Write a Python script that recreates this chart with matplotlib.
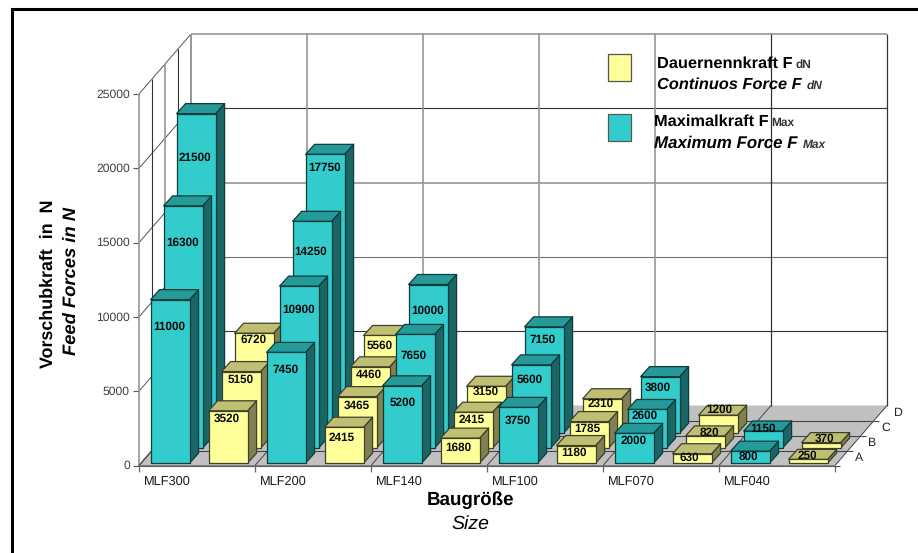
import matplotlib
matplotlib.use('Agg')
import matplotlib.pyplot as plt
from matplotlib.patches import Polygon

plt.rcParams['font.family'] = ['Liberation Sans', 'DejaVu Sans']
plt.rcParams['text.hinting'] = 'no_hinting'

# categories alternate between max force and continuous force
sizes = ['MLF300', 'MLF200', 'MLF140', 'MLF100', 'MLF070', 'MLF040']
rows = ['A', 'B', 'C', 'D']
yticks = [0, 5000, 10000, 15000, 20000, 25000]

row_a = [11000, 3520, 7450, 2415, 5200, 1680, 3750, 1180, 2000, 630, 800, 250]
row_b = [16300, 5150, 10900, 3465, 7650, 2415, 5600, 1785, 2600, 820, 1150, 370]
row_c = [21500, 6720, 14250, 4460, 10000, 3150, 7150, 2310, 3800, 1200, None, None]
row_d = [None, None, 17750, 5560, None, None, None, None, None, None, None, None]
values = [row_a, row_b, row_c, row_d]

# hand placed value labels, offset from the top centre of each bar
offs_a = [(-.5, 27), (-1, 8), (-1, 17), (-2, 10.6), (1, 17), (-2, 10), (0, 13.4),
          (-2.5, 7.3), (0, 7.3), (-2.5, 4), (-1.5, 6), (-.5, -3.5)]
offs_b = [(0, 37), (0, 8.4), (0, 23.7), (0, 9), (-2, 21), (-1, 7.3), (-1, 15),
          (-2, 7.6), (-2, 6.3), (4.5, -3.6), (0, -2.7), (3, -3.7)]
offs_c = [(-1.5, 43.7), (0, 7), (-1.5, 30.4), (-1.5, 7.6), (0, 26), (0, 5.6), (-2, 12.6),
          (-1, 5), (-2, 10.7), (1, -5.7), (0, 0), (0, 0)]
offs_d = [(0, 0), (0, 0), (0, 13.4), (-3.5, 10.4), (0, 0), (0, 0), (0, 0),
          (0, 0), (0, 0), (0, 0), (0, 0), (0, 0)]
label_offs = [offs_a, offs_b, offs_c, offs_d]

# projection of the chart box onto the page
X0, Y0 = 139, 465.5
CAT_W = 58
ROW_DX, ROW_DY = 13, -15
PX_PER_N = 371.5 / 25000
BAR_W = 39
BAR_DX, BAR_DY = 9, -10
BAR_DEPTH_OFF = 0.16   # gap in front of a bar, as fraction of a row
TEAL = ('#33CCCC', '#269999', '#1A6666', '#0E3C3C')
YELLOW = ('#FFFF99', '#BFBF73', '#808050', '#40402A')
GRID_DARK = '#333333'
GRID_GREY = '#969696'


def project(cat, row, val):
    # cat = category units, row = depth units, val = newtons
    x = X0 + cat * CAT_W + row * ROW_DX
    y = Y0 + row * ROW_DY - val * PX_PER_N
    return x, y


def line(ax, p, q, color, lw=0.8):
    ax.plot([p[0], q[0]], [p[1], q[1]], color=color, lw=lw, solid_capstyle='butt', zorder=2)


def draw_walls(ax):
    n_cat = len(sizes) * 2
    n_row = len(rows)
    top = yticks[-1]
    floor = [project(0, 0, 0), project(n_cat, 0, 0), project(n_cat, n_row, 0), project(0, n_row, 0)]
    ax.add_patch(Polygon(floor, closed=True, fc='#C0C0C0', ec='none', zorder=1))
    # back wall and side wall
    for i, v in enumerate(yticks):
        c = GRID_GREY if v in (15000, 25000) else GRID_DARK
        lw = 1.2 if v in (15000, 25000) else 0.8
        if v == 10000:
            c = '#707070'
        if v > 0:
            line(ax, project(0, n_row, v), project(n_cat, n_row, v), c, lw)
        line(ax, project(0, 0, v), project(0, n_row, v), '#555555', 0.7)
        line(ax, (X0 - 6, project(0, 0, v)[1]), project(0, 0, v), '#555555', 0.8)
        ax.text(X0 - 9, project(0, 0, v)[1] + 0.5, str(v), ha='right', va='center',
                fontsize=8.7, color='#404040')
    for k in range(len(sizes) + 1):
        c = GRID_DARK if k >= 5 else GRID_GREY
        lw = 0.9 if k >= 5 else 1.2
        line(ax, project(k * 2, n_row, 0), project(k * 2, n_row, top), c, lw)
        line(ax, project(k * 2, 0, 0), project(k * 2, n_row, 0), '#444444', 0.7)
        line(ax, project(k * 2, 0, 0), (project(k * 2, 0, 0)[0], Y0 + 6), '#666666', 0.9)
    for r in range(n_row + 1):
        c = GRID_GREY if r % 2 == 0 else GRID_DARK
        line(ax, project(0, r, 0), project(0, r, top), c, 1.2 if r % 2 == 0 else 0.8)
        if r < n_row:
            line(ax, project(0, r, 0), project(n_cat, r, 0), '#444444', 0.8)
            line(ax, project(n_cat, r, 0), (project(n_cat, r, 0)[0] + 5, project(n_cat, r, 0)[1]),
                 '#444444', 0.8)
    line(ax, project(0, 0, 0), project(n_cat, 0, 0), '#666666', 1.1)
    line(ax, project(0, 0, 0), project(0, n_row, 0), '#555555', 0.8)
    for i, name in enumerate(rows):
        xr, yr = project(n_cat, i + 0.5, 0)
        ax.text(xr + 18, yr, name, ha='center', va='center', fontsize=8.8, color='#222222')
    for i, name in enumerate(sizes):
        ax.text(project(i * 2, 0, 0)[0] + 28.5, 482, name, ha='center', va='center',
                fontsize=9.2, color='#1a1a1a')


def draw_bar(ax, cat, row, val, colors):
    left, base = project(cat, row + BAR_DEPTH_OFF, 0)
    left += (CAT_W - BAR_W) / 2
    h = val * PX_PER_N
    face, top, side, edge = colors
    right = left + BAR_W
    up = base - h
    kw = dict(closed=True, ec=edge, lw=0.9, joinstyle='round', zorder=3)
    ax.add_patch(Polygon([(right, base), (right + BAR_DX, base + BAR_DY),
                          (right + BAR_DX, up + BAR_DY), (right, up)], fc=side, **kw))
    ax.add_patch(Polygon([(left, up), (right, up), (right + BAR_DX, up + BAR_DY),
                          (left + BAR_DX, up + BAR_DY)], fc=top, **kw))
    ax.add_patch(Polygon([(left, base), (right, base), (right, up), (left, up)], fc=face, **kw))
    return left + BAR_W / 2, up


def draw_bars(ax):
    # back row first so that the nearer bars cover it
    for r in range(len(rows) - 1, -1, -1):
        for c, val in enumerate(values[r]):
            if val is None:
                continue
            colors = TEAL if c % 2 == 0 else YELLOW
            cx, up = draw_bar(ax, c, r, val, colors)
            dx, dy = label_offs[r][c]
            ax.text(cx + dx, up + dy, str(val), ha='center', va='center', fontsize=8.5,
                    fontweight='bold', color='#0a0a0a', zorder=3)


def draw_legend(ax):
    for y0, colors in ((54, YELLOW), (114, TEAL)):
        ax.add_patch(Polygon([(608, y0), (631, y0), (631, y0 + 26.5), (608, y0 + 26.5)],
                             closed=True, fc=colors[0], ec='#555555', lw=0.9, zorder=4))
    ax.text(657, 67.7, 'Dauernennkraft F', fontsize=11.8, fontweight='bold', zorder=4)
    ax.text(795.7, 67.7, 'dN', fontsize=8.6, fontweight='bold', color='#333333', zorder=4)
    ax.text(657, 89.3, 'Continuos Force F', fontsize=11.8, fontweight='bold', style='italic', zorder=4)
    ax.text(806.7, 89.3, 'dN', fontsize=8.6, fontweight='bold', style='italic', color='#333333', zorder=4)
    ax.text(654, 125.7, 'Maximalkraft F', fontsize=11.8, fontweight='bold', zorder=4)
    ax.text(771.7, 125.7, 'Max', fontsize=8.6, fontweight='bold', color='#333333', zorder=4)
    ax.text(654, 148, 'Maximum Force F', fontsize=12.2, fontweight='bold', style='italic', zorder=4)
    ax.text(802.7, 148, 'Max', fontsize=8.6, fontweight='bold', style='italic', color='#333333', zorder=4)


def main():
    fig = plt.figure(figsize=(9.18, 5.53), dpi=100)
    ax = fig.add_axes([0, 0, 1, 1])
    ax.set_xlim(0, 918)
    ax.set_ylim(553, 0)
    ax.axis('off')

    # outer frame
    ax.plot([11.5, 11.5, 918], [553, 8.7, 8.7], color='black', lw=2.2, solid_joinstyle='miter')

    draw_walls(ax)
    draw_bars(ax)
    draw_legend(ax)

    ax.text(48, 284, 'Vorschubkraft  in  N', rotation=90, ha='center', va='center',
            fontsize=12.9, fontweight='bold')
    ax.text(71, 281, 'Feed Forces in N', rotation=90, ha='center', va='center',
            fontsize=13.2, fontweight='bold', style='italic')
    ax.text(470.5, 500, 'Baugröße', ha='center', va='center', fontsize=13.5, fontweight='bold')
    ax.text(470, 524, 'Size', ha='center', va='center', fontsize=14, style='italic')

    fig.savefig('out.png', dpi=100)


main()
